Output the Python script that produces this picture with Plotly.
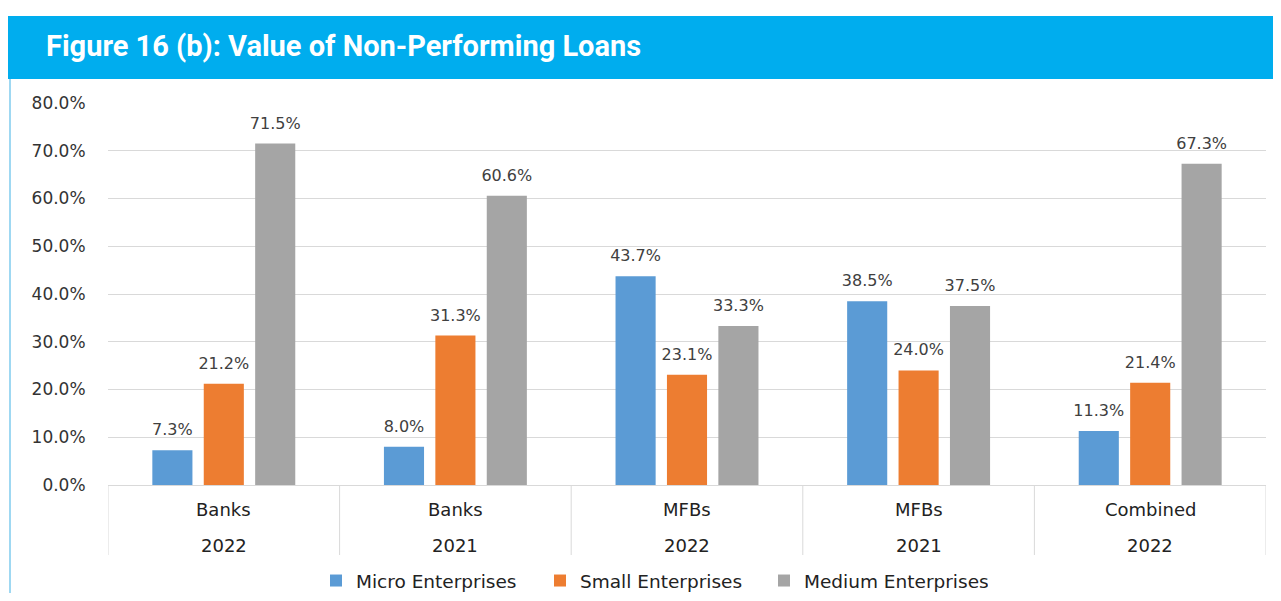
import plotly.graph_objects as go

institutions = ["Banks", "Banks", "MFBs", "MFBs", "Combined"]
years = ["2022", "2021", "2022", "2021", "2022"]
micro = [7.3, 8.0, 43.7, 38.5, 11.3]
small = [21.2, 31.3, 23.1, 24.0, 21.4]
medium = [71.5, 60.6, 33.3, 37.5, 67.3]
series_names = ["Micro Enterprises", "Small Enterprises", "Medium Enterprises"]
colors = ["#5B9BD5", "#ED7D31", "#A5A5A5"]
y_ticks = [0, 10, 20, 30, 40, 50, 60, 70, 80]
title = "Figure 16 (b): Value of Non-Performing Loans"

cats = [f"{i} {y}" for i, y in zip(institutions, years)]

OFF = 8  # browser body margin
W, H = 1281 - 2 * OFF, 601 - 2 * OFF
L, T = 108 - OFF, 103 - OFF
R = W - (1266 - OFF)
B = H - (485 - OFF)
pw, ph = W - L - R, H - T - B

def px_x(x):
    return (x - OFF - L) / pw

def px_y(y):
    return (T + ph - (y - OFF)) / ph

FONT = "DejaVu Sans"

fig = go.Figure()
for name, vals, col in zip(series_names, [micro, small, medium], colors):
    fig.add_trace(go.Bar(
        x=cats, y=vals, name=name, marker=dict(color=col, line=dict(width=0)),
        hoverinfo="skip",
    ))
for name, vals in zip(series_names, [micro, small, medium]):
    fig.add_trace(go.Scatter(
        x=cats, y=vals, mode="markers+text", showlegend=False,
        marker=dict(size=16, opacity=0),
        text=[f"{v:.1f}%" for v in vals], textposition="top center",
        textfont=dict(family=FONT, size=16, color="#404040"),
        cliponaxis=False, hoverinfo="skip",
    ))

shapes = []
# header band
shapes.append(dict(type="rect", xref="paper", yref="paper",
                   x0=px_x(0), x1=px_x(1300), y0=px_y(79), y1=px_y(16),
                   fillcolor="#00ADEE", line=dict(width=0), layer="below"))
# left border
shapes.append(dict(type="line", xref="paper", yref="paper",
                   x0=px_x(10), x1=px_x(10), y0=px_y(79), y1=px_y(610),
                   line=dict(color="#9FD8F2", width=2)))
# category dividers
for k in range(len(cats) + 1):
    shapes.append(dict(type="line", xref="x", yref="paper",
                       x0=k - 0.5, x1=k - 0.5, y0=0, y1=px_y(555),
                       line=dict(color="#D9D9D9", width=1)))

annotations = [dict(text=f"<b>{title}</b>", xref="paper", yref="paper",
                    x=px_x(44), y=px_y(46), xanchor="left", yanchor="middle",
                    showarrow=False,
                    font=dict(family="Roboto", size=29, color="white"))]
for c, inst, yr in zip(cats, institutions, years):
    annotations.append(dict(text=inst, x=c, xref="x", yref="paper", y=px_y(509),
                            yanchor="middle", showarrow=False,
                            font=dict(family=FONT, size=18, color="#222222")))
    annotations.append(dict(text=yr, x=c, xref="x", yref="paper", y=px_y(545),
                            yanchor="middle", showarrow=False,
                            font=dict(family=FONT, size=18, color="#222222")))

fig.update_layout(
    width=W, height=H,
    margin=dict(l=L, r=R, t=T, b=B, autoexpand=False),
    paper_bgcolor="white", plot_bgcolor="white",
    barmode="group", bargap=0.334, bargroupgap=0.22,
    scattermode="group", scattergap=0.334,
    font=dict(family=FONT, size=15, color="#333333"),
    showlegend=True,
    legend=dict(orientation="h", xref="paper", x=px_x(652), xanchor="center",
                yref="container", y=(H - (581 - OFF)) / H, yanchor="middle",
                font=dict(family=FONT, size=18.5, color="#222222"), itemwidth=30,
                entrywidth=179, traceorder="normal"),
    xaxis=dict(showticklabels=False, showline=True, linecolor="#D9D9D9", linewidth=1,
               showgrid=False, ticks="", range=[-0.5, len(cats) - 0.5]),
    yaxis=dict(range=[0, 80], tickvals=y_ticks, ticktext=[f"{v:.1f}%" for v in y_ticks],
               showgrid=True, gridcolor="#D9D9D9", gridwidth=1, zeroline=False,
               ticks="outside", ticklen=18, tickcolor="rgba(0,0,0,0)",
               tickfont=dict(family=FONT, size=17, color="#333333")),
    shapes=shapes, annotations=annotations,
)

fig.write_html("out.html")
